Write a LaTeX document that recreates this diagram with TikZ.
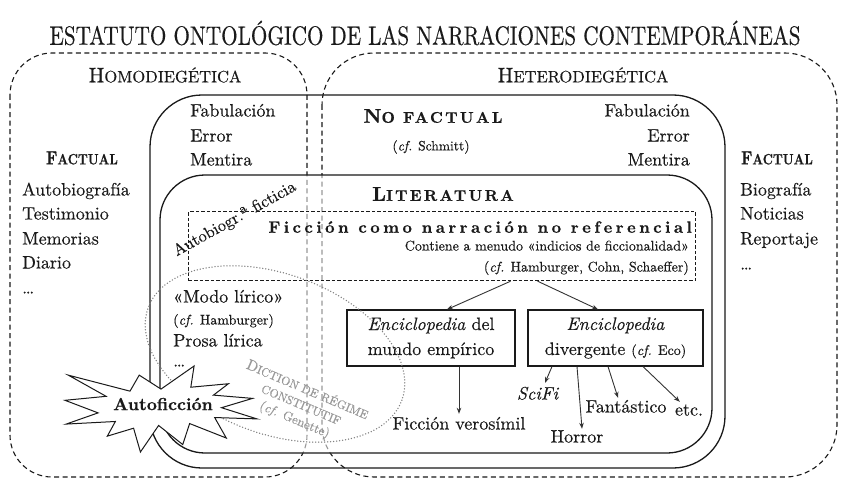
\documentclass[tikz,border=0pt]{standalone}
\usepackage{graphicx}
\usepackage{fontspec}
\setmainfont{lmroman10-regular.otf}[BoldFont=lmroman10-bold.otf, ItalicFont=lmroman10-italic.otf, BoldItalicFont=lmroman10-bolditalic.otf, UprightFeatures={FakeBold=0.35}, ItalicFeatures={FakeBold=0.35}]
\newfontfamily\heavyfont{lmroman10-bold.otf}[FakeBold=0.5]
\newfontfamily\heavysp{lmroman10-bold.otf}[FakeBold=0.5, LetterSpace=15]
\newfontfamily\heavyspb{lmroman10-bold.otf}[FakeBold=0.5, LetterSpace=21]
\usetikzlibrary{arrows.meta}
\definecolor{ink}{HTML}{1A1A1A}
\definecolor{greyline}{HTML}{999999}
\definecolor{greytext}{HTML}{999999}
\definecolor{dotc}{HTML}{808080}
\definecolor{arrowc}{HTML}{333333}
\newcommand{\fs}[1]{\fontsize{#1}{#1}\selectfont}
\tikzset{
  region/.style={draw=ink, line width=1.1pt, dash pattern=on 5pt off 3.5pt},
  greyregion/.style={draw=greyline, line width=1.1pt, dash pattern=on 5pt off 3.5pt},
  solidbox/.style={draw=ink, line width=1.3pt},
  fictbox/.style={draw=ink, line width=1.2pt, dash pattern=on 3.5pt off 2pt, inner sep=0pt},
  txt/.style={font=\fs{18}, text=ink, inner sep=0pt, text height=12.5pt, text depth=3.5pt},
  smalltxt/.style={font=\fs{14}, text=ink, inner sep=0pt, text height=10pt, text depth=3pt},
  headtxt/.style={text=ink, inner sep=0pt},
  encbox/.style={draw=ink, line width=1.1pt, minimum height=56pt, align=center, font=\fontsize{18}{25}\selectfont, text=ink, inner sep=0pt},
  arr/.style={draw=arrowc, line width=0.9pt, -{Stealth[length=6pt,width=4.5pt]}},
  dotline/.style={draw=dotc, line width=1.5pt, line cap=round, dash pattern=on 0pt off 3pt},
}
\begin{document}
\begin{tikzpicture}[x=1pt,y=-1pt]
\useasboundingbox (0,0) rectangle (850,492);
\fill[white] (0,0) rectangle (850,492);

% title
\node[headtxt] (title) at (425,33) {\scalebox{0.8}[1]{\fs{26.5}ESTATUTO ONTOLÓGICO DE LAS NARRACIONES CONTEMPORÁNEAS}};

% dashed regions
\draw[region, rounded corners=42pt] (10,53) rectangle (307,477);
\draw[region, rounded corners=52pt] (322,53) rectangle (837,477);

\node[headtxt] (homo) at (165,75) {\fs{21}H\fs{16.5}OMODIEGÉTICA};
\node[headtxt] (hetero) at (583,75) {\fs{21}H\fs{16.5}ETERODIEGÉTICA};

% no factual box
\draw[solidbox, rounded corners=52pt] (150,95) rectangle (725,468);

% literatura box
\fill[white, rounded corners=45pt] (160,175) rectangle (712,453);
\begin{scope}
\clip[rounded corners=45pt] (160,175) rectangle (712,453);
\draw[greyregion, rounded corners=42pt] (10,53) rectangle (307,477);
\draw[greyregion, rounded corners=52pt] (322,53) rectangle (837,477);
\end{scope}
\draw[solidbox, rounded corners=45pt] (160,175) rectangle (712,453);

% left factual
\node[headtxt, font=\heavyfont] (factL) at (82,158) {\scalebox{0.82}[1]{\fs{19}F\fs{15}ACTUAL}};
\node[txt, anchor=west] (l1) at (22,191) {Autobiografía};
\node[txt, anchor=west] (l2) at (22,215) {Testimonio};
\node[txt, anchor=west] (l3) at (22,240) {Memorias};
\node[txt, anchor=west] (l4) at (22,264) {Diario};
\node[txt, anchor=west] (l5) at (22,289) {…};

% right factual
\node[headtxt, font=\heavyfont] (factR) at (777,158) {\scalebox{0.82}[1]{\fs{19}F\fs{15}ACTUAL}};
\node[txt, anchor=west] (r1) at (740,191) {Biografía};
\node[txt, anchor=west] (r2) at (740,215) {Noticias};
\node[txt, anchor=west] (r3) at (740,240) {Reportaje};
\node[txt, anchor=west] (r4) at (740,265) {…};

% no factual content
\node[txt, anchor=west] (nl1) at (190,112) {Fabulación};
\node[txt, anchor=west] (nl2) at (190,137) {Error};
\node[txt, anchor=west] (nl3) at (190,161) {Mentira};
\node[txt, anchor=east] (nr1) at (690,112) {Fabulación};
\node[txt, anchor=east] (nr2) at (690,137) {Error};
\node[txt, anchor=east] (nr3) at (690,161) {Mentira};
\node[headtxt, font=\heavysp] (nofact) at (433,116) {\fs{20}N\fs{15.5}O FACTUAL};
\node[headtxt, font=\fs{13.5}] (schmitt) at (431,147) {(\textit{cf.} Schmitt)};

% literatura content
\node[headtxt, font=\heavysp] (lit) at (443,194) {\fs{20}L\fs{15.5}ITERATURA};

\node[anchor=base, rotate=29, headtxt, font=\fs{16.5}] (autobio) at (237,223) {Autobiogr.ª ficticia};

% ficcion box
\node[fictbox, minimum width=507pt, minimum height=69pt, anchor=north west] (ficc) at (188,211) {};
\node[headtxt, anchor=east, font=\heavyspb\fs{16.5}] (ficct) at (692,227) {Ficción como narración no referencial};
\node[smalltxt, anchor=east] (indic) at (689,247) {Contiene a menudo «indicios de ficcionalidad»};
\node[smalltxt, anchor=east] (hcs) at (689,268) {(\textit{cf.} Hamburger, Cohn, Schaeffer)};

% lirico
\node[txt, anchor=west] (m1) at (173,298) {«Modo lírico»};
\node[smalltxt, anchor=west] (m2) at (173,321) {(\textit{cf.} Hamburger)};
\node[txt, anchor=west] (m3) at (173,342) {Prosa lírica};
\node[txt, anchor=west] (m4) at (173,362) {…};

% enciclopedias
\node[encbox, minimum width=168pt] (enc1) at (431,338) {\textit{Enciclopedia} del\\mundo empírico};
\node[encbox, minimum width=175pt] (enc2) at (615.5,338) {\textit{Enciclopedia}\\divergente {\fs{14}(\textit{cf.} Eco)}};

\draw[arr] ([xshift=68.5pt]ficc.south) -- ([xshift=16pt]enc1.north);
\draw[arr] ([xshift=95.5pt]ficc.south) -- ([xshift=-17.5pt]enc2.north);

\node[txt] (fv) at (459,425) {Ficción verosímil};
\node[txt] (scifi) at (538,395) {\textit{SciFi}};
\node[txt] (horror) at (577,438) {Horror};
\node[txt] (fant) at (626,408) {Fantástico};
\node[txt] (etc) at (689,411) {etc.};

\draw[arr] (enc1.south -| fv.north) -- ([yshift=3pt]fv.north);
\draw[arr] ([xshift=-63.5pt]enc2.south) -- ([xshift=7pt,yshift=4pt]scifi.north);
\draw[arr] ([xshift=-38.5pt]enc2.south) -- ([xshift=5pt,yshift=1pt]horror.north);
\draw[arr] ([xshift=-7.5pt]enc2.south) -- ([xshift=-8pt,yshift=2pt]fant.north);
\draw[arr] ([xshift=27.5pt]enc2.south) -- ([xshift=5pt,yshift=1pt]etc.north west);

% dotted ellipse
\draw[dotline, rotate around={-20:(275,354)}] (275,354) ellipse [x radius=135, y radius=80];

\node[rotate=-23, align=center, text=greytext, inner sep=0pt, font=\fontsize{12}{16}\selectfont] (diction) at (301,405) {{\fs{15}D}ICTION DE RÉGIME\\CONSTITUTIF\\{\fs{13}(\textit{cf.} Genette)}};

% starburst
\begin{scope}[shift={(65,366)}, xscale=0.8889, yscale=0.3981]
\draw[draw=ink, line width=1pt, fill=white, line join=miter]
 (108,58) -- (145.22,0) -- (141.55,53.25) -- (183.80,44.57) -- (167.02,73.15) -- (210.97,81.37) -- (176.07,104.75) -- (216,132.9) -- (168.37,129.42) -- (181.45,180.95) -- (140.20,144.57) -- (132.47,197.37) -- (105.32,149.35) -- (84.85,216) -- (77.15,156.27) -- (47.62,176.17) -- (56.67,139.37) -- (1.35,145.87) -- (37.22,117.75) -- (0,86.15) -- (46.27,76.17) -- (3.70,22.95) -- (73.12,63.20) -- (83.52,22.95) -- cycle;
\end{scope}
\node[headtxt, font=\heavyfont\fs{17.5}] (autof) at (163,404) {Autoficción};

\end{tikzpicture}
\end{document}
